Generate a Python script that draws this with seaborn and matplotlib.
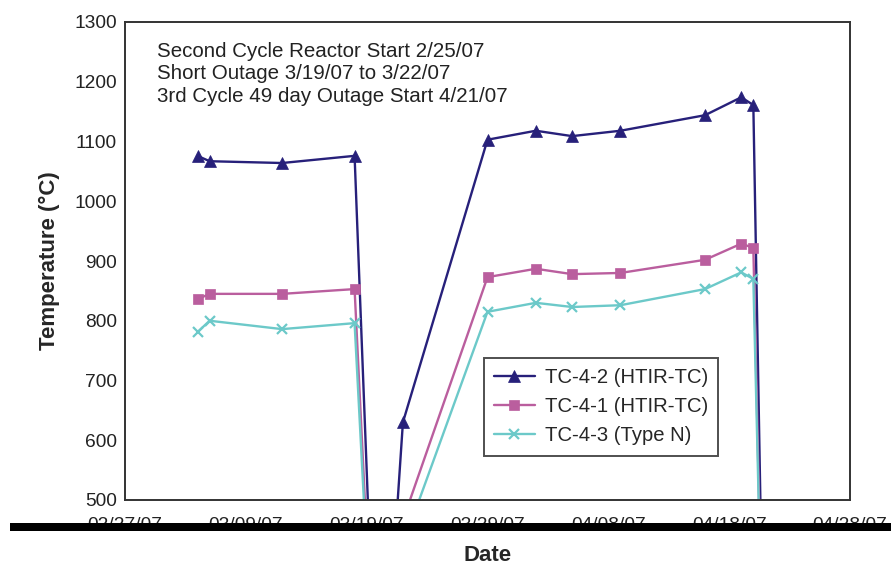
import matplotlib
matplotlib.use("Agg")
import matplotlib.pyplot as plt
import matplotlib.dates as mdates
from matplotlib.patches import Rectangle
import seaborn as sns
import pandas as pd

# ---- data ----
dates = ["2007-03-05", "2007-03-06", "2007-03-12", "2007-03-18", "2007-03-20",
         "2007-03-22", "2007-03-29", "2007-04-02", "2007-04-05", "2007-04-09",
         "2007-04-16", "2007-04-19", "2007-04-20", "2007-04-21"]
tc_4_2 = [1076, 1067, 1064, 1076, 25, 630, 1103, 1118, 1109, 1118, 1144, 1174, 1161, 25]
tc_4_1 = [836, 845, 845, 853, 25, 466, 873, 887, 878, 880, 902, 929, 922, 25]
tc_4_3 = [781, 800, 786, 796, 25, 425, 815, 830, 823, 826, 853, 881, 870, 25]
series_names = ["TC-4-2 (HTIR-TC)", "TC-4-1 (HTIR-TC)", "TC-4-3 (Type N)"]
xtick_dates = ["2007-02-27", "2007-03-09", "2007-03-19", "2007-03-29",
               "2007-04-08", "2007-04-18", "2007-04-28"]
yticks = [500, 600, 700, 800, 900, 1000, 1100, 1200, 1300]
note = ("Second Cycle Reactor Start 2/25/07\n"
        "Short Outage 3/19/07 to 3/22/07\n"
        "3rd Cycle 49 day Outage Start 4/21/07")

sns.set_style("white")
plt.rcParams["font.family"] = ["Liberation Sans", "DejaVu Sans"]

colors = ["#27207A", "#BA5E9E", "#6CC9C9"]
markers = ["^", "s", "x"]
msizes = [8, 7, 7]

fig = plt.figure(figsize=(8.91, 5.65), dpi=100)
ax = fig.add_axes([125 / 891, 1 - 500 / 565, 725 / 891, 478 / 565])

x = pd.to_datetime(dates)
for name, vals, c, m, ms in zip(series_names, [tc_4_2, tc_4_1, tc_4_3], colors, markers, msizes):
    df = pd.DataFrame({"Date": x, "Temp": vals})
    sns.lineplot(data=df, x="Date", y="Temp", ax=ax, color=c, marker=m,
                 markersize=ms, markeredgecolor=c, markerfacecolor=c,
                 markeredgewidth=1.6 if m == "x" else 0.5,
                 linewidth=1.7, label=name, errorbar=None)

ax.set_xlim(pd.Timestamp("2007-02-27"), pd.Timestamp("2007-04-28"))
ax.set_ylim(500, 1300)
ax.set_xticks(pd.to_datetime(xtick_dates))
ax.xaxis.set_major_formatter(mdates.DateFormatter("%m/%d/%y"))
ax.set_yticks(yticks)

for s in ax.spines.values():
    s.set_visible(True)
    s.set_color("#333333")
    s.set_linewidth(1.4)

ax.tick_params(axis="both", direction="in", length=6, width=1.2, color="#333333",
               labelsize=13.8, labelcolor="#222222")
ax.tick_params(axis="x", pad=12)
ax.tick_params(axis="y", pad=6)

ax.set_xlabel("Date", fontsize=16, fontweight="bold", labelpad=8)
ax.set_ylabel("Temperature (°C)", fontsize=16, fontweight="bold", labelpad=10)

ax.text(0.044, 0.958, note, transform=ax.transAxes, ha="left", va="top",
        fontsize=14.8, linespacing=1.22, color="#222222")

leg = ax.legend(loc="upper left", bbox_to_anchor=(0.495, 0.297), borderaxespad=0,
                fontsize=14.6, frameon=True, fancybox=False, edgecolor="#222222",
                handlelength=2.0, handletextpad=0.5, labelspacing=0.5,
                borderpad=0.5)
leg.get_frame().set_linewidth(1.4)

# thick black bar crossing the date labels in the reference
fig.add_artist(Rectangle((10 / 891, 1 - 531 / 565), 881 / 891, 8 / 565,
                         transform=fig.transFigure, facecolor="black",
                         edgecolor="none", zorder=10))

fig.savefig("out.png", dpi=100)
